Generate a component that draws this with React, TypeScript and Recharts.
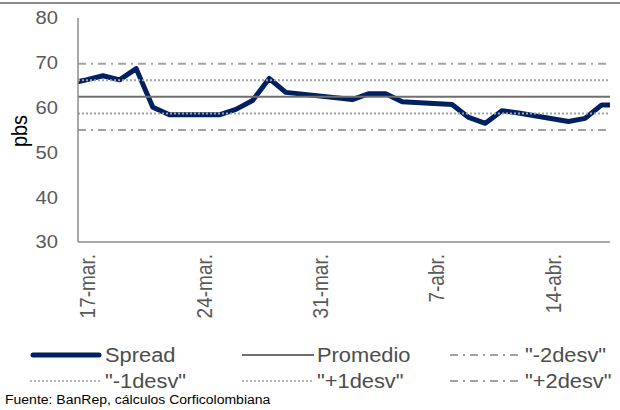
import { LineChart, Line, XAxis, YAxis, ReferenceLine } from 'recharts';

// days counted from 17-mar.
const days = [-1, 0, 1, 2, 3, 4, 5, 8, 9, 10, 11, 12, 16, 17, 18, 19, 22, 23, 24, 25, 26, 29, 30, 31, 32];
const spread = [65.4, 66.2, 67.1, 66.2, 68.7, 60.1, 58.4, 58.4, 59.6, 61.6, 66.5, 63.4, 61.8, 63.1, 63.1, 61.3, 60.7, 57.8, 56.5, 59.3, 58.8, 56.9, 57.6, 60.6, 60.6];

const tickDays = [0, 7, 14, 21, 28];
const tickLabels = ['17-mar.', '24-mar.', '31-mar.', '7-abr.', '14-abr.'];
const yTicks = [30, 40, 50, 60, 70, 80];

const promedio = 62.4;
const desvMinus2 = 55.0;
const desvMinus1 = 58.7;
const desvPlus1 = 66.1;
const desvPlus2 = 69.8;

const data = days.map((d, i) => ({ day: d, spread: spread[i] }));

const FONT = '"Liberation Sans", Arial, sans-serif';
const COLORS = {
  spread: '#002060',
  promedio: '#6f6f6f',
  desv: '#a3a3a3',
  axis: '#8c8c8c',
  tick: '#595959',
  legend: '#4d4d4d',
};
const STRETCH = 1.12;

function XTick({ x, y, payload }: any) {
  const idx = tickDays.indexOf(payload.value);
  const cx = x + 1.5;
  return (
    <g transform={`translate(${cx} 0) scale(${STRETCH} 1) translate(${-cx} 0)`}>
      <text
        x={cx}
        y={y}
        transform={`rotate(-90 ${cx} ${y})`}
        textAnchor="end"
        dominantBaseline="central"
        fontSize={19}
        fontFamily={FONT}
        fill={COLORS.tick}
      >
        {tickLabels[idx]}
      </text>
    </g>
  );
}

function YTick({ x, y, payload }: any) {
  return (
    <text
      x={x}
      y={y}
      dy="0.36em"
      textAnchor="end"
      transform={`translate(${x} 0) scale(${STRETCH} 1) translate(${-x} 0)`}
      fontSize={18}
      fontFamily={FONT}
      fill={COLORS.tick}
    >
      {payload.value}
    </text>
  );
}

function YLabel({ viewBox }: any) {
  const cx = 19;
  const cy = viewBox.y + viewBox.height / 2 + 1;
  return (
    <g transform={`translate(${cx} 0) scale(${STRETCH} 1) translate(${-cx} 0)`}>
      <text
        x={cx}
        y={cy}
        transform={`rotate(-90 ${cx} ${cy})`}
        textAnchor="middle"
        dominantBaseline="central"
        fontSize={20}
        fontFamily={FONT}
        fill="#000"
      >
        pbs
      </text>
    </g>
  );
}

const legendItems = [
  { label: 'Spread', kind: 'spread', left: 30, top: 355 },
  { label: 'Promedio', kind: 'promedio', left: 242, top: 355 },
  { label: '"-2desv"', kind: 'dashdot', left: 450, top: 355 },
  { label: '"-1desv"', kind: 'dot', left: 30, top: 381 },
  { label: '"+1desv"', kind: 'dot', left: 242, top: 381 },
  { label: '"+2desv"', kind: 'dashdot', left: 450, top: 381 },
];

function LegendSample({ kind }: { kind: string }) {
  let stroke = COLORS.desv;
  let width = 2;
  let dash: string | undefined;
  if (kind === 'spread') {
    stroke = COLORS.spread;
    width = 5;
  } else if (kind === 'promedio') {
    stroke = COLORS.promedio;
    width = 2;
  } else if (kind === 'dot') {
    dash = '2 2';
    width = 1.5;
  } else {
    dash = '8 5 2 5';
    width = 2;
  }
  return (
    <svg width={72} height={10} style={{ display: 'block' }}>
      <line
        x1={kind === 'spread' ? 3 : 0}
        x2={kind === 'spread' ? 69 : 72}
        y1={5}
        y2={5}
        stroke={stroke}
        strokeWidth={width}
        strokeDasharray={dash}
        strokeLinecap={kind === 'spread' ? 'round' : 'butt'}
      />
    </svg>
  );
}

export default function App() {
  return (
    <div
      style={{
        position: 'absolute',
        left: 0,
        top: 0,
        width: 620,
        height: 410,
        background: '#fff',
        fontFamily: FONT,
        overflow: 'hidden',
      }}
    >
      <div style={{ position: 'absolute', left: 0, top: 2, width: 620, height: 2, background: COLORS.axis }} />
      <div style={{ position: 'absolute', left: 0, top: 0 }}>
        <LineChart width={620} height={330} data={data} margin={{ top: 18, right: 10, left: 0, bottom: 0 }}>
          <XAxis
            dataKey="day"
            type="number"
            domain={[-0.5, 31.5]}
            allowDataOverflow
            ticks={tickDays}
            interval={0}
            tick={<XTick />}
            tickLine={false}
            tickSize={0}
            tickMargin={12}
            height={88}
            axisLine={{ stroke: COLORS.axis, strokeWidth: 1.5 }}
          />
          <YAxis
            type="number"
            domain={[30, 80]}
            ticks={yTicks}
            interval={0}
            tick={<YTick />}
            tickLine={false}
            tickSize={0}
            tickMargin={20}
            width={78}
            axisLine={{ stroke: COLORS.axis, strokeWidth: 1.5 }}
            label={<YLabel />}
          />
          <Line
            dataKey="spread"
            type="linear"
            stroke={COLORS.spread}
            strokeWidth={5}
            strokeLinejoin="round"
            dot={false}
            activeDot={false}
            isAnimationActive={false}
          />
          <ReferenceLine y={desvPlus2} stroke={COLORS.desv} strokeWidth={2} strokeDasharray="8 5 2 5" />
          <ReferenceLine y={desvPlus1} stroke={COLORS.desv} strokeWidth={2} strokeDasharray="2 2" />
          <ReferenceLine y={promedio} stroke={COLORS.promedio} strokeWidth={2} />
          <ReferenceLine y={desvMinus1} stroke={COLORS.desv} strokeWidth={2} strokeDasharray="2 2" />
          <ReferenceLine y={desvMinus2} stroke={COLORS.desv} strokeWidth={2} strokeDasharray="8 5 2 5" />
        </LineChart>
      </div>
      {legendItems.map((it) => (
        <div
          key={it.label}
          style={{
            position: 'absolute',
            left: it.left,
            top: it.top - 12,
            height: 24,
            display: 'flex',
            alignItems: 'center',
          }}
        >
          <LegendSample kind={it.kind} />
          <span
            style={{
              display: 'inline-block',
              marginLeft: 3,
              fontSize: 19.5,
              color: COLORS.legend,
              transform: `scaleX(${STRETCH})`,
              transformOrigin: 'left center',
              whiteSpace: 'nowrap',
            }}
          >
            {it.label}
          </span>
        </div>
      ))}
      <div
        style={{
          position: 'absolute',
          left: 5,
          top: 392,
          fontSize: 12.5,
          lineHeight: '16px',
          color: '#000',
          transform: `scaleX(${STRETCH})`,
          transformOrigin: 'left center',
          whiteSpace: 'nowrap',
        }}
      >
        Fuente: BanRep, cálculos Corficolombiana
      </div>
    </div>
  );
}
